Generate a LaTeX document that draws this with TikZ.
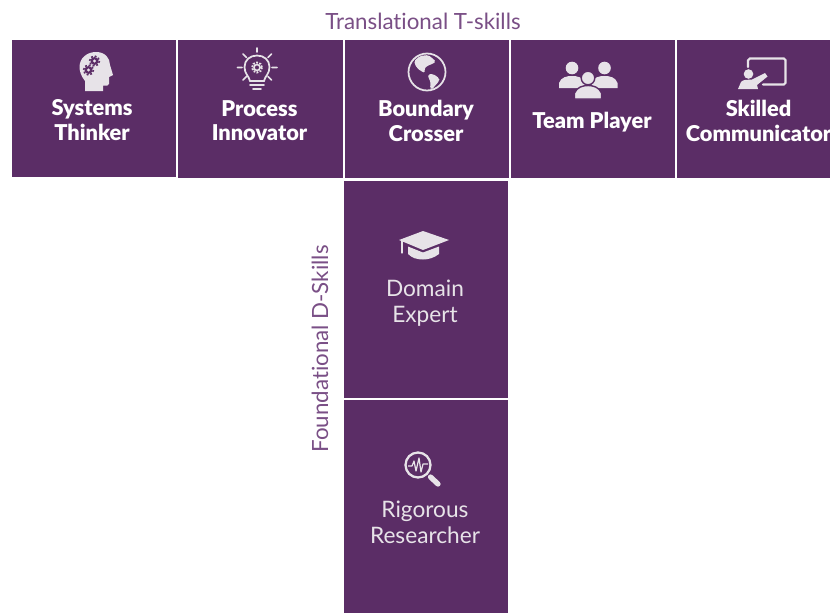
\documentclass[tikz,border=0pt]{standalone}
\usepackage{fontspec}
\setmainfont[Ligatures=NoCommon]{Lato}
\newfontfamily\skillheavy{Lato Black}
\usepackage{xcolor}
\usetikzlibrary{positioning}
\definecolor{skillpurple}{HTML}{5B2D66}
\definecolor{headpurple}{HTML}{7A4F86}
\definecolor{iconwhite}{HTML}{E7E3E8}
\tikzset{
    skillbox/.style={fill=skillpurple, draw=none, inner sep=0pt, anchor=north west},
    tskill/.style={text=white, font=\fontsize{12.4}{13.8}\selectfont\skillheavy, align=center, inner sep=0pt},
    dskill/.style={text=iconwhite, font=\fontsize{12.9}{14.7}\selectfont, align=center, inner sep=0pt},
    header/.style={text=headpurple, font=\fontsize{12.7}{14}\selectfont, inner sep=0pt},
    iconline/.style={draw=iconwhite, line width=1pt, line cap=round},
    iconfill/.style={fill=iconwhite, draw=none}
}
\begin{document}
\begin{tikzpicture}[x=0.02cm, y=-0.02cm]
    \clip (0,0) rectangle (830,612);
    \fill[white] (0,0) rectangle (830,612);

    \node[skillbox, minimum width=3.28cm, minimum height=2.74cm] (systems) at (12,40) {};
    \node[skillbox, minimum width=3.30cm, minimum height=2.76cm] (process) at (178,40) {};
    \node[skillbox, minimum width=3.28cm, minimum height=2.76cm] (boundary) at (344.5,40) {};
    \node[skillbox, minimum width=3.28cm, minimum height=2.76cm] (team) at (511,40) {};
    \node[skillbox, minimum width=3.20cm, minimum height=2.76cm] (skilled) at (677,40) {};
    \node[skillbox, minimum width=3.28cm, minimum height=4.34cm] (domain) at (344,181) {};
    \node[skillbox, minimum width=3.28cm, minimum height=4.26cm] (rigorous) at (344,400) {};

    \node[header] (thead) at (423,21) {Translational T-skills};
    \node[header, rotate=90] (dhead) at (320,349) {Foundational D-Skills};

    \node[tskill] at (92,120) {Systems\\Thinker};
    \node[tskill] at (259.5,121) {Process\\Innovator};
    \node[tskill] at (426,121) {Boundary\\Crosser};
    \node[tskill] at (592,122) {Team Player};
    \node[tskill] at (758.5,121) {Skilled\\Communicator};
    \node[dskill] at (425,303) {Domain\\Expert};
    \node[dskill] at (425,522) {Rigorous\\Researcher};

    % head with gears
    \fill[iconwhite] (85,91) -- (85,81) .. controls (81,76) and (79.5,71) .. (79.5,67)
        .. controls (79.5,58) and (87,52) .. (96,52) .. controls (105,52) and (110,58) .. (110,65)
        -- (113,75) -- (109,77) -- (109,84) .. controls (109,86) and (106,86) .. (103,85.5) -- (103,91) -- cycle;
    \foreach \gx/\gy in {94.5/61, 88.5/70}{
        \fill[skillpurple] (\gx,\gy) circle (4);
        \draw[skillpurple, line width=0.9pt, dash pattern=on 1.1pt off 1.1pt] (\gx,\gy) circle (5);
        \fill[iconwhite] (\gx,\gy) circle (1.6);
    }

    % light bulb
    \draw[iconline] (250,81) .. controls (249,76) and (244.5,74) .. (244.5,67)
        .. controls (244.5,60) and (250,55.5) .. (257,55.5) .. controls (264,55.5) and (269.5,60) .. (269.5,67)
        .. controls (269.5,74) and (265,76) .. (264,81) -- cycle;
    \draw[iconline] (257,48) -- (257,52) (237.5,67.5) -- (242,67.5) (272,67.5) -- (277,67.5)
        (243,54) -- (246.5,57.5) (271.5,54) -- (268,57.5) (243,80) -- (246.5,76.5) (271.5,80) -- (268,76.5)
        (250,85) -- (264,85) (253,89) -- (261,89);
    \draw[iconwhite, line width=1.1pt, dash pattern=on 1pt off 0.8pt] (257,67.5) circle (5);
    \draw[iconwhite, line width=0.9pt] (257,67.5) circle (3);

    % globe
    \draw[iconline] (427,72) circle (18.5);
    \fill[iconwhite, rounded corners=1pt] (414,61) -- (420,56) -- (428.3,55) -- (433.3,59) -- (436,61.7) -- (431.7,64.3)
        -- (427.3,65.7) -- (424,69) -- (425.3,73) -- (420.7,71) -- (416.7,67.7) -- (415,64.3) -- cycle;
    \fill[iconwhite, rounded corners=1pt] (428,74.3) -- (433.3,74) -- (439.3,78.3) -- (439.3,81) -- (435,85.7) -- (431.7,90)
        -- (430,88.3) -- (430.7,81.7) -- (428.3,77.7) -- cycle;

    % three people
    \foreach \px in {572,604.5}{
        \fill[iconwhite] (\px,68) circle (6.3);
        \fill[iconwhite] (\px-13,88) -- (\px-13,83) .. controls (\px-11,77) and (\px-5,76) .. (\px,76)
            .. controls (\px+5,76) and (\px+11,77) .. (\px+13,83) -- (\px+13,88) -- cycle;
    }
    \fill[iconwhite, draw=skillpurple, line width=0.8pt] (588,78) circle (6.8);
    \fill[iconwhite, draw=skillpurple, line width=0.8pt] (574.5,99) -- (574.5,93) .. controls (577,87) and (583,85.5) .. (588,85.5)
        .. controls (593,85.5) and (599,87) .. (601.5,93) -- (601.5,99) -- cycle;

    % teacher at board
    \draw[iconline, line width=1.2pt, rounded corners=1pt] (748,67) -- (748,58.5) -- (785.5,58.5) -- (785.5,84.5) -- (763,84.5);
    \fill[iconwhite] (748.5,74) circle (4.8);
    \fill[iconwhite] (738,89) -- (741,82) .. controls (743,79.5) and (746,80) .. (752,79.5) -- (765,73) -- (767.5,76.5)
        -- (757,85) -- (758,89) -- cycle;

    % graduation cap
    \fill[iconwhite] (423,231) -- (449,240) -- (423,250) -- (399,240) -- cycle;
    \fill[iconwhite] (408,246.5) -- (423,252.5) -- (439,246.5) -- (439,254) .. controls (434,258) and (428,259.5) .. (423,259.5)
        .. controls (417,259.5) and (412,258) .. (408,254) -- cycle;
    \draw[iconline, line width=0.6pt] (402,241) -- (402,253);

    % magnifier
    \draw[iconline, line width=1.3pt] (418,465) circle (12.5);
    \draw[iconwhite, line width=3pt, line cap=round] (430.5,477) -- (438,484);
    \draw[iconwhite, line width=0.7pt, line join=round] (408,466) -- (412,466) -- (414,461) -- (416,471) -- (419,458) -- (421,472) -- (423,464) -- (428,464);
\end{tikzpicture}
\end{document}
